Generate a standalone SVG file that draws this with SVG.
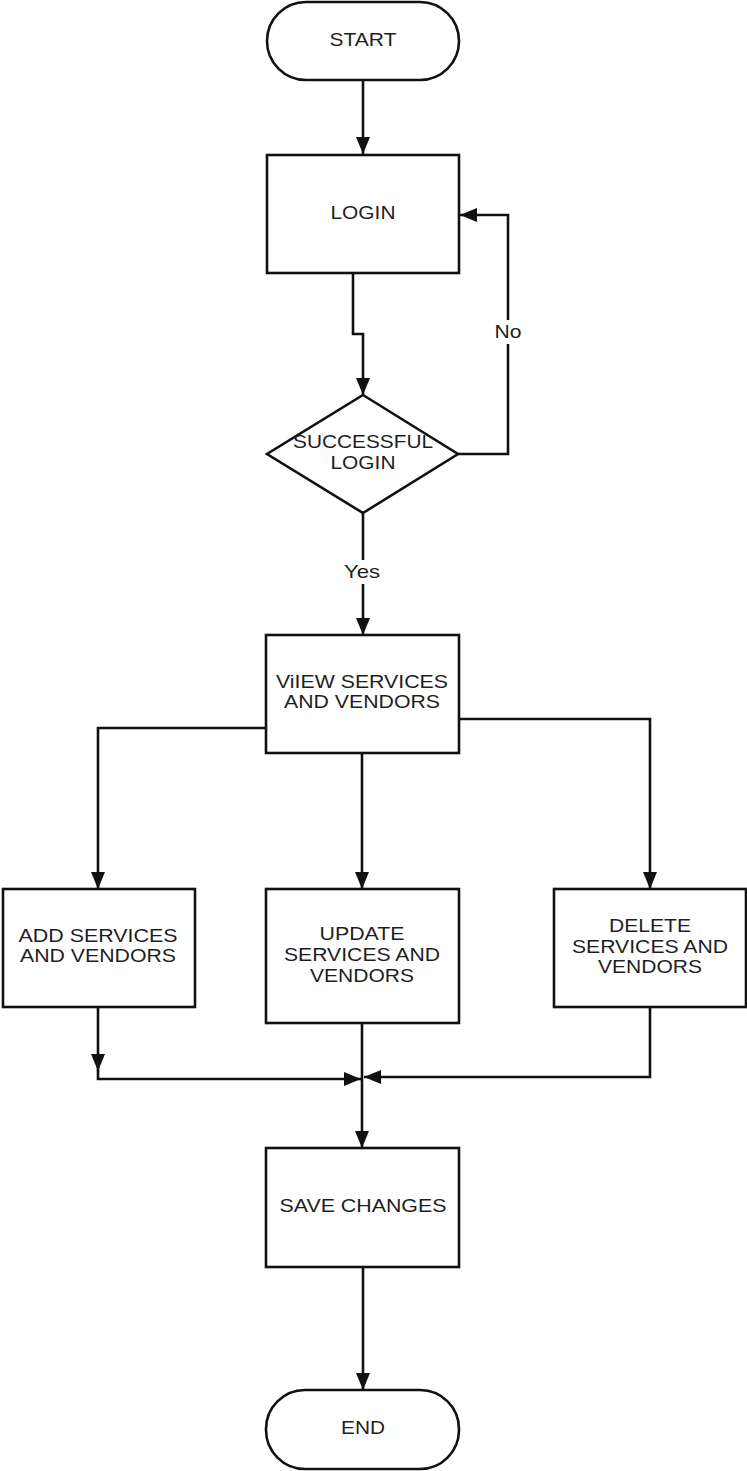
<svg xmlns="http://www.w3.org/2000/svg" width="747" height="1471" viewBox="0 0 747 1471">
<style>
.shape{fill:#ffffff;stroke:#111111;stroke-width:2.6}
.conn{fill:none;stroke:#111111;stroke-width:2.6}
.t{font-family:"Liberation Sans",Arial,sans-serif;font-size:19px;fill:#1e1e1e;text-anchor:middle}
.lbl{fill:#ffffff;stroke:none}
</style>
<defs>
<marker id="arr" viewBox="0 0 17 14" markerWidth="17" markerHeight="14" refX="17" refY="7" orient="auto" markerUnits="userSpaceOnUse">
<path d="M0,0 L17,7 L0,14 z" fill="#111111"/>
</marker>
</defs>
<rect width="747" height="1471" fill="#ffffff"/>

<g id="connectors">
<path class="conn" d="M363 80 V154" marker-end="url(#arr)"/>
<path class="conn" d="M353 273 V334 H363 V395" marker-end="url(#arr)"/>
<path class="conn" d="M458 454 H508 V215 H460" marker-end="url(#arr)"/>
<path class="conn" d="M363 513 V635" marker-end="url(#arr)"/>
<path class="conn" d="M266 728 H98 V889" marker-end="url(#arr)"/>
<path class="conn" d="M362 753 V889" marker-end="url(#arr)"/>
<path class="conn" d="M459 719 H650 V889" marker-end="url(#arr)"/>
<path class="conn" d="M98 1007 V1071" marker-end="url(#arr)"/>
<path class="conn" d="M98 1070 V1079 H361" marker-end="url(#arr)"/>
<path class="conn" d="M650 1007 V1077 H364" marker-end="url(#arr)"/>
<path class="conn" d="M362 1023 V1148" marker-end="url(#arr)"/>
<path class="conn" d="M363 1267 V1390" marker-end="url(#arr)"/>
<rect class="lbl" x="494" y="320" width="28" height="24"/>
<text class="t" x="508" y="338" textLength="27" lengthAdjust="spacingAndGlyphs">No</text>
<rect class="lbl" x="343" y="560" width="40" height="24"/>
<text class="t" x="362" y="578" textLength="36" lengthAdjust="spacingAndGlyphs">Yes</text>
</g>

<g id="start">
<rect class="shape" x="267" y="2" width="192" height="78" rx="39" ry="39"/>
<text class="t" x="363" y="46" textLength="67" lengthAdjust="spacingAndGlyphs">START</text>
</g>

<g id="login">
<rect class="shape" x="267" y="155" width="192" height="118"/>
<text class="t" x="363" y="219" textLength="65" lengthAdjust="spacingAndGlyphs">LOGIN</text>
</g>

<g id="successful-login">
<polygon class="shape" points="363,395 458,454 363,513 267,454"/>
<text class="t" x="363" y="448" textLength="140" lengthAdjust="spacingAndGlyphs">SUCCESSFUL</text>
<text class="t" x="363" y="469" textLength="65" lengthAdjust="spacingAndGlyphs">LOGIN</text>
</g>

<g id="view">
<rect class="shape" x="266" y="635" width="193" height="118"/>
<text class="t" x="362" y="688" textLength="172" lengthAdjust="spacingAndGlyphs">ViIEW SERVICES</text>
<text class="t" x="362" y="708" textLength="156" lengthAdjust="spacingAndGlyphs">AND VENDORS</text>
</g>

<g id="add">
<rect class="shape" x="3" y="889" width="192" height="118"/>
<text class="t" x="98" y="942" textLength="159" lengthAdjust="spacingAndGlyphs">ADD SERVICES</text>
<text class="t" x="98" y="962" textLength="156" lengthAdjust="spacingAndGlyphs">AND VENDORS</text>
</g>

<g id="update">
<rect class="shape" x="266" y="889" width="193" height="134"/>
<text class="t" x="362" y="940" textLength="85" lengthAdjust="spacingAndGlyphs">UPDATE</text>
<text class="t" x="362" y="961" textLength="156" lengthAdjust="spacingAndGlyphs">SERVICES AND</text>
<text class="t" x="362" y="982" textLength="104" lengthAdjust="spacingAndGlyphs">VENDORS</text>
</g>

<g id="delete">
<rect class="shape" x="554" y="889" width="192" height="118"/>
<text class="t" x="650" y="932" textLength="82" lengthAdjust="spacingAndGlyphs">DELETE</text>
<text class="t" x="650" y="953" textLength="156" lengthAdjust="spacingAndGlyphs">SERVICES AND</text>
<text class="t" x="650" y="973" textLength="104" lengthAdjust="spacingAndGlyphs">VENDORS</text>
</g>

<g id="save">
<rect class="shape" x="266" y="1148" width="193" height="119"/>
<text class="t" x="363" y="1212" textLength="167" lengthAdjust="spacingAndGlyphs">SAVE CHANGES</text>
</g>

<g id="end">
<rect class="shape" x="266" y="1390" width="193" height="79" rx="39" ry="39"/>
<text class="t" x="363" y="1434" textLength="44" lengthAdjust="spacingAndGlyphs">END</text>
</g>
</svg>
